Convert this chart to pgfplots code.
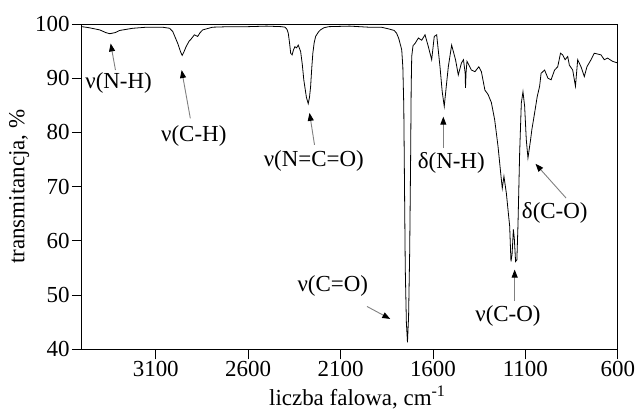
\documentclass[border=0pt]{standalone}
\usepackage{fontspec}
\setmainfont{Liberation Serif}
\usepackage{pgfplots}
\pgfplotsset{compat=1.18}
\usetikzlibrary{arrows.meta,calc}

\begin{document}
\begin{tikzpicture}[
  ann/.style={draw=gray, line width=0.9pt, -{Triangle[black,length=8pt,width=6pt]}},
  lab/.style={font=\fontsize{23}{27}\selectfont, inner sep=0pt}]
\begin{axis}[
  scale only axis, width=537pt, height=326pt,
  x dir=reverse, xmin=600, xmax=3500, ymin=40, ymax=100,
  xtick={600,1100,...,3100}, ytick={40,50,...,100},
  tick align=outside, major tick length=10pt,
  xtick pos=bottom, ytick pos=left,
  scaled x ticks=false,
  /pgf/number format/assume math mode=true,
  /pgf/number format/1000 sep={},
  tick label style={font=\fontsize{23}{27}\selectfont, inner sep=2pt},
  label style={font=\fontsize{23}{27}\selectfont},
  xlabel={liczba falowa, cm\textsuperscript{-1}},
  ylabel={transmitancja, \%},
  xlabel style={at={(axis description cs:0.514,-0.147)}, anchor=center},
  ylabel style={at={(axis description cs:-0.117,0.5)}, anchor=center},
  axis line style={line width=0.8pt},
  tick style={line width=0.8pt, black},
]
\addplot[black, line width=0.8pt] coordinates {
(3500,99.5) (3460,99.3) (3403,98.9) (3370,98.4) (3349,98.2) (3320,98.4)
(3295,98.8) (3225,99.2) (3150,99.4) (3064,99.4) (3025,99.2) (3008,98.6)
(2981,96.4) (2965,94.8) (2957,94.2) (2948,94.8) (2936,95.8) (2920,96.8)
(2909,97.2) (2891,98.0) (2873,97.7) (2860,98.4) (2846,98.9) (2793,99.4)
(2700,99.5) (2600,99.5) (2500,99.6) (2420,99.5) (2400,99.4) (2390,99.0)
(2383,98.3) (2376,96.5) (2370,94.6) (2362,94.3) (2355,95.2) (2347,95.8)
(2338,95.6) (2329,96.1) (2316,94.9) (2307,92.5) (2299,89.7) (2285,86.5)
(2275,85.3) (2268,86.5) (2262,88.5) (2256,91.8) (2250,94.6) (2243,96.5)
(2235,97.7) (2220,98.5) (2209,98.9) (2190,99.3) (2164,99.5) (2050,99.6)
(1948,99.4) (1880,99.4) (1841,99.1) (1810,98.8) (1797,98.3) (1785,97.3)
(1775,96.0) (1769,95.2) (1763,92) (1758,85) (1754,70) (1750,55)
(1744,45) (1738,41.3) (1732,46) (1726,58) (1721,75) (1718,88)
(1715,94) (1708,96.0) (1697,96.4) (1679,97.4) (1661,97.0) (1643,98.0)
(1625,95.8) (1607,93.4) (1593,97.7) (1580,98.0) (1562,92.1) (1550,87.5)
(1539,84.8) (1528,88.5) (1517,92.1) (1499,96.1) (1478,93.4) (1463,90.6)
(1446,92.8) (1435,93.4) (1426,91.0) (1424,88.2) (1421,91.0) (1416,93.1)
(1392,91.5) (1373,91.2) (1352,92.1) (1338,91.2) (1319,87.8) (1302,87.0)
(1284,85.5) (1266,82.3) (1248,77.4) (1230,71.3) (1225,69.7) (1216,71.9)
(1203,68.8) (1185,62.7) (1178,56.2) (1172,57.5) (1165,62.1) (1160,60.5)
(1153,56.2) (1146,56.5) (1140,63.0) (1131,76.2) (1122,85.4) (1113,87.5)
(1104,84.8) (1095,78.6) (1086,75.3) (1072,78.6) (1065,80.5) (1050,83.6)
(1036,86.6) (1023,88.5) (1015,90.9) (996,91.5) (978,90.0) (961,89.7)
(942,91.5) (925,92.1) (910,94.6) (898,94.3) (885,93.4) (871,94.0)
(862,92.4) (844,91.5) (829,88.5) (817,93.4) (799,92.1) (781,90.3)
(767,92.1) (745,93.4) (727,94.6) (691,94.3) (673,93.4) (655,93.7)
(628,93.1) (600,92.8)
};

% adnotacje pasm
\draw[ann] (axis cs:3318,91.5) -- (axis cs:3344,96.4);
\node[lab] at (axis cs:3301,89.1) {ν(N-H)};
\draw[ann] (axis cs:2913,82.6) -- (axis cs:2960,91.5);
\node[lab] at (axis cs:2894,79.4) {ν(C-H)};
\draw[ann] (axis cs:2241,77.7) -- (axis cs:2268,83.6);
\node[lab] at (axis cs:2245,74.8) {ν(N=C=O)};
\draw[ann] (axis cs:1957,47.9) -- (axis cs:1831,45.6);
\node[lab] at (axis cs:2142,51.6) {ν(C=O)};
\draw[ann] (axis cs:1544,77.1) -- (axis cs:1544,82.9);
\node[lab] at (axis cs:1501,74.4) {δ(N-H)};
\draw[ann] (axis cs:880,67.9) -- (axis cs:1045,74.2);
\node[lab] at (axis cs:941,65.2) {δ(C-O)};
\draw[ann] (axis cs:1158,48.9) -- (axis cs:1158,54.7);
\node[lab] at (axis cs:1194,46.1) {ν(C-O)};
\end{axis}
\path ($(current axis.south west)+(-82pt,-67pt)$) rectangle ($(current axis.north east)+(18pt,24pt)$);
\end{tikzpicture}
\end{document}
